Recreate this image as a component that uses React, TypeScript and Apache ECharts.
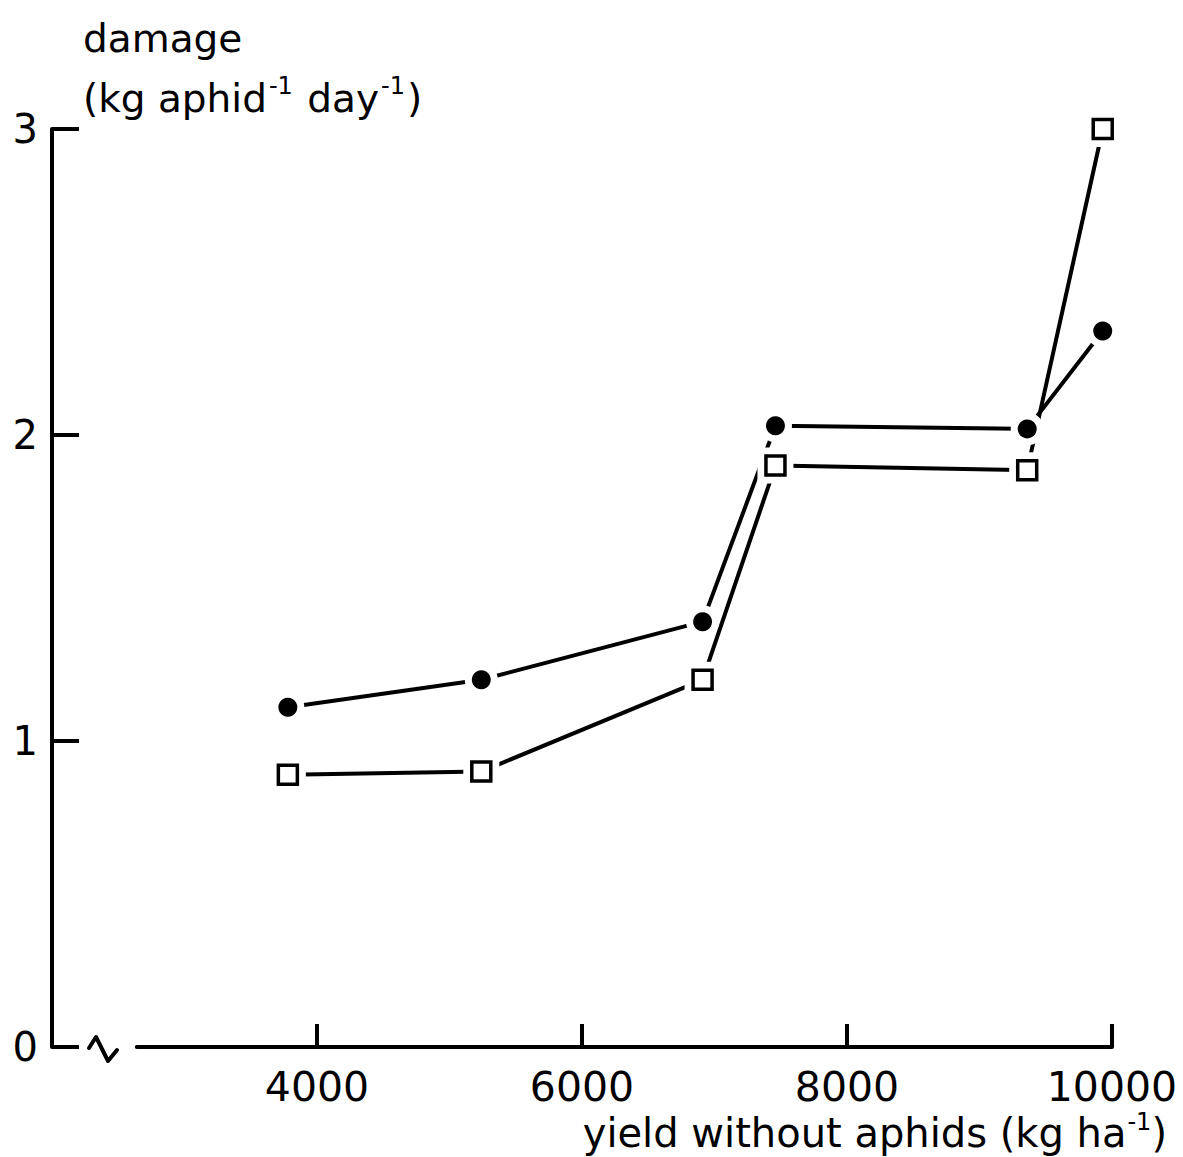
import React, { useEffect, useRef } from "react";
import * as echarts from "echarts";

// yield without aphids (kg/ha) for each of the six sites
const yieldValues = [3780, 5240, 6910, 7460, 9360, 9930];
// damage (kg aphid^-1 day^-1): filled-circle series
const damageCircles = [1.11, 1.2, 1.39, 2.03, 2.02, 2.34];
// damage (kg aphid^-1 day^-1): open-square series
const damageSquares = [0.89, 0.9, 1.2, 1.9, 1.885, 3.0];

const xTickValues = [4000, 6000, 8000, 10000];
const X_MIN = 2000;
const X_MAX = 10000;
const X_INTERVAL = 2000;
const Y_MIN = 0;
const Y_MAX = 3;
const Y_INTERVAL = 1;
// the x axis is broken: line resumes at this value, break mark drawn at BREAK_AT
const AXIS_RESUME = 2640;
const BREAK_AT = 2385;

const FONT = "DejaVu Sans";

export default function App() {
  const ref = useRef<HTMLDivElement>(null);

  useEffect(() => {
    document.body.style.margin = "0";
    const chart = echarts.init(ref.current!, null, { renderer: "svg" });
    const circlePts = yieldValues.map((x, i) => [x, damageCircles[i]]);
    const squarePts = yieldValues.map((x, i) => [x, damageSquares[i]]);
    const lineStyle = { color: "#000", width: 4, cap: "round", join: "round" };
    const sup = { fontSize: 24, fontFamily: FONT, color: "#000", padding: [0, 2, 24, 2] };

    chart.setOption({
      animation: false,
      backgroundColor: "#fff",
      grid: { left: 52, right: 71, top: 129, bottom: 110, containLabel: false, outerBoundsMode: "none" },
      title: [
        {
          text: "damage\n(kg aphid{sup|-1} day{sup|-1})",
          left: 78,
          top: 3,
          textStyle: {
            fontFamily: FONT,
            fontSize: 39,
            fontWeight: "normal",
            color: "#000",
            lineHeight: 60,
            rich: {
              sup: { ...sup, lineHeight: 60 },
            },
          },
        },
        {
          text: "yield without aphids (kg ha{sup|-1})",
          right: 11,
          top: 1106,
          textStyle: {
            fontFamily: FONT,
            fontSize: 40,
            fontWeight: "normal",
            color: "#000",
            lineHeight: 44,
            rich: {
              sup: { ...sup, lineHeight: 44, padding: [0, 0, 22, 1] },
            },
          },
        },
      ],
      xAxis: {
        type: "value",
        min: X_MIN,
        max: X_MAX,
        interval: X_INTERVAL,
        axisLine: { show: false },
        axisTick: {
          show: true,
          inside: true,
          length: 23,
          customValues: xTickValues,
          lineStyle: { color: "#000", width: 4 },
        },
        axisLabel: {
          customValues: xTickValues,
          formatter: (v: number) => String(v),
          color: "#000",
          fontFamily: FONT,
          fontSize: 41,
          margin: 19,
        },
        splitLine: { show: false },
      },
      yAxis: {
        type: "value",
        min: Y_MIN,
        max: Y_MAX,
        interval: Y_INTERVAL,
        axisLine: { show: true, lineStyle: { color: "#000", width: 4 } },
        axisTick: {
          show: true,
          inside: true,
          length: 27,
          lineStyle: { color: "#000", width: 4 },
        },
        axisLabel: {
          formatter: (v: number) => String(v),
          color: "#000",
          fontFamily: FONT,
          fontSize: 40,
          margin: 14,
        },
        splitLine: { show: false },
      },
      series: [
        { type: "line", data: circlePts, symbol: "none", lineStyle, z: 1 },
        { type: "line", data: squarePts, symbol: "none", lineStyle, z: 1 },
        {
          type: "scatter",
          data: circlePts,
          symbol: "circle",
          symbolSize: 33,
          itemStyle: { color: "#fff", opacity: 1 },
          z: 5,
          silent: true,
        },
        {
          type: "scatter",
          data: squarePts,
          symbol: "rect",
          symbolSize: 36,
          itemStyle: { color: "#fff", opacity: 1 },
          z: 5,
          silent: true,
        },
        {
          type: "scatter",
          data: circlePts,
          symbol: "circle",
          symbolSize: 19,
          itemStyle: { color: "#000", opacity: 1 },
          z: 6,
        },
        {
          type: "scatter",
          data: squarePts,
          symbol: "rect",
          symbolSize: 19,
          itemStyle: { color: "#fff", borderColor: "#000", borderWidth: 3.5, opacity: 1 },
          z: 6,
        },
      ],
    });

    const p0 = chart.convertToPixel({ xAxisIndex: 0, yAxisIndex: 0 }, [AXIS_RESUME, Y_MIN]) as number[];
    const p1 = chart.convertToPixel({ xAxisIndex: 0, yAxisIndex: 0 }, [X_MAX, Y_MIN]) as number[];
    const pb = chart.convertToPixel({ xAxisIndex: 0, yAxisIndex: 0 }, [BREAK_AT, Y_MIN]) as number[];
    const bx = pb[0];
    const by = pb[1];

    chart.setOption({
      graphic: [
        {
          type: "line",
          shape: { x1: p0[0], y1: p0[1], x2: p1[0], y2: p1[1] },
          style: { stroke: "#000", lineWidth: 4, lineCap: "round" },
          z: 10,
        },
        {
          type: "polyline",
          shape: {
            points: [
              [bx - 14, by + 1],
              [bx - 7, by - 10],
              [bx + 5, by + 14],
              [bx + 14, by + 3],
            ],
          },
          style: { stroke: "#000", lineWidth: 4, lineCap: "round", lineJoin: "round", fill: "none" },
          z: 10,
        },
      ],
    });

    return () => {
      chart.dispose();
    };
  }, []);

  return <div ref={ref} style={{ width: 1183, height: 1157 }} />;
}
